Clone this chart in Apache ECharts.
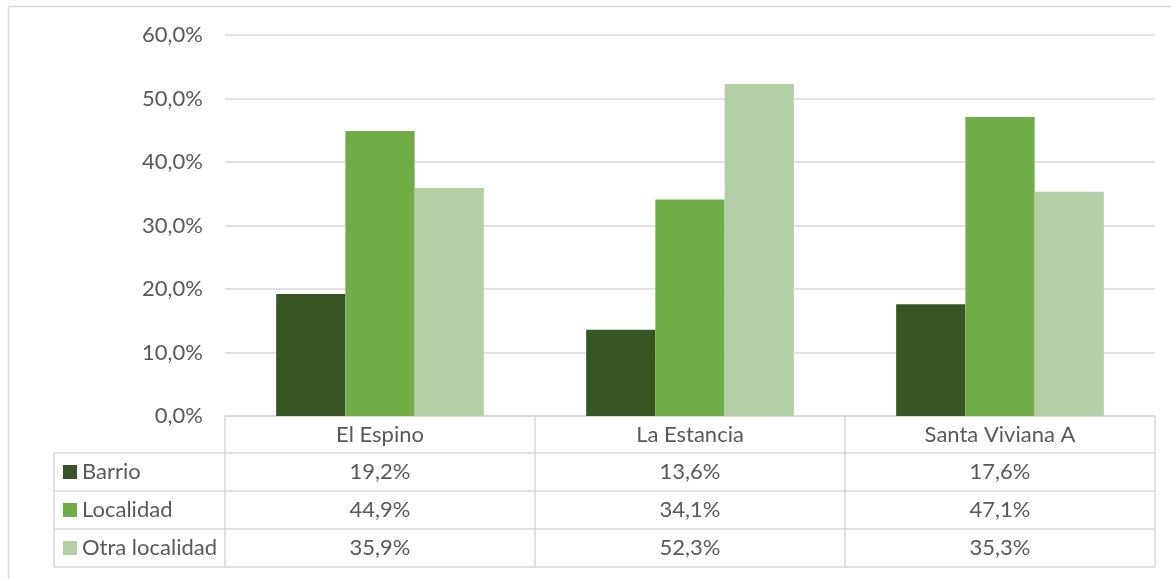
<!DOCTYPE html>
<html><head><meta charset="utf-8">
<script src="https://cdn.jsdelivr.net/npm/echarts@6/dist/echarts.min.js"></script>
<style>html,body{margin:0;padding:0;background:#fff}#c{width:1171px;height:579px}</style>
</head><body><div id="c"></div>
<script>
const categories = ['El Espino', 'La Estancia', 'Santa Viviana A'];
const seriesNames = ['Barrio', 'Localidad', 'Otra localidad'];
const barrio = [19.2, 13.6, 17.6];
const localidad = [44.9, 34.1, 47.1];
const otraLocalidad = [35.9, 52.3, 35.3];
const yTicks = [0, 10, 20, 30, 40, 50, 60];

const colors = ['#375623', '#70AD47', '#B4CFA6'];
const values = [barrio, localidad, otraLocalidad];
const FONT = 'Lato';
const FS = 22;
const TXT = '#595959';
const LINE = '#d9d9d9';
const fmt = v => v.toFixed(1).replace('.', ',') + '%';

const W = 1171, H = 579;
const gl = 225, gr = 1155, gt = 35, gb = 416;
const rowY = [416, 453, 491, 529, 567];
const tableLeft = 54;

const chart = echarts.init(document.getElementById('c'), null, {renderer: 'canvas'});
chart.setOption({
  animation: false,
  grid: {left: gl, right: W - gr, top: gt, bottom: H - gb, containLabel: false},
  xAxis: {
    type: 'category', data: categories,
    axisLine: {show: false}, axisTick: {show: false}, axisLabel: {show: false}
  },
  yAxis: {
    type: 'value', min: yTicks[0], max: yTicks[yTicks.length - 1], interval: 10,
    axisLabel: {formatter: v => fmt(v), color: TXT, fontFamily: FONT, fontSize: FS, margin: 22},
    splitLine: {lineStyle: {color: LINE, width: 1.5}},
    axisLine: {show: false}, axisTick: {show: false}
  },
  series: seriesNames.map((n, i) => ({
    name: n, type: 'bar', data: values[i],
    barGap: '0%', barCategoryGap: '33%',
    itemStyle: {color: colors[i]}
  }))
});

// data table under the plot
const g = [];
const colW = (gr - gl) / categories.length;
const font = FS + 'px ' + FONT;
const line = (x1, y1, x2, y2) => g.push({type: 'line', shape: {x1, y1, x2, y2}, style: {stroke: LINE, lineWidth: 1.5}, silent: true});
line(gl, rowY[0], gr, rowY[0]);
for (let r = 1; r < rowY.length; r++) line(tableLeft, rowY[r], gr, rowY[r]);
line(tableLeft, rowY[1], tableLeft, rowY[4]);
for (let c = 0; c <= categories.length; c++) line(gl + c * colW, rowY[0], gl + c * colW, rowY[4]);
categories.forEach((cat, c) => g.push({type: 'text', x: gl + (c + 0.5) * colW, y: (rowY[0] + rowY[1]) / 2,
  style: {text: cat, fill: TXT, font, align: 'center', verticalAlign: 'middle'}}));
seriesNames.forEach((n, r) => {
  const cy = (rowY[r + 1] + rowY[r + 2]) / 2;
  g.push({type: 'rect', shape: {x: 63, y: cy - 7, width: 14, height: 14}, style: {fill: colors[r]}});
  g.push({type: 'text', x: 82, y: cy, style: {text: n, fill: TXT, font, align: 'left', verticalAlign: 'middle'}});
  values[r].forEach((v, c) => g.push({type: 'text', x: gl + (c + 0.5) * colW, y: cy,
    style: {text: fmt(v), fill: TXT, font, align: 'center', verticalAlign: 'middle'}}));
});
g.push({type: 'rect', shape: {x: 8.5, y: 6.5, width: 1300, height: 700}, style: {fill: null, stroke: LINE, lineWidth: 1.5}, silent: true});
chart.setOption({graphic: {elements: g}});
</script></body></html>
